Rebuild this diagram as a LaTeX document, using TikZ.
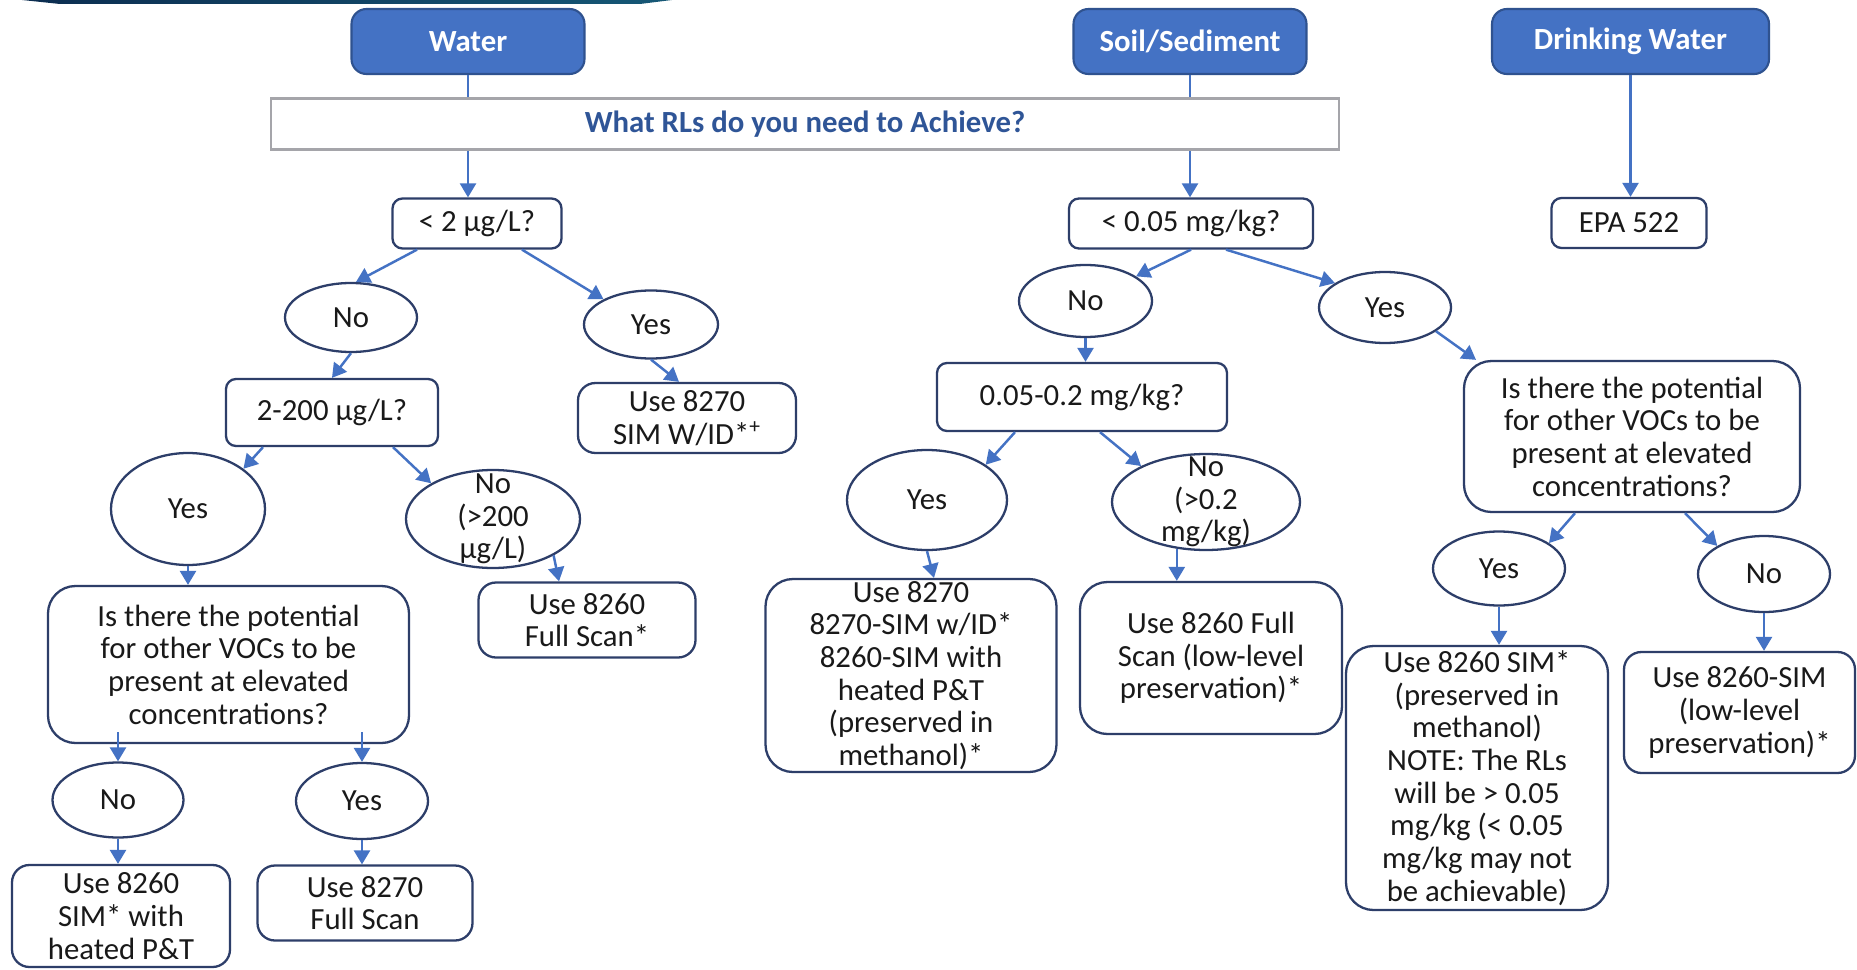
\documentclass[tikz,border=0pt]{standalone}
\usepackage{fontspec}
\setmainfont{Carlito}
\usetikzlibrary{positioning,arrows.meta,calc,shapes.geometric}
\definecolor{HdrBlue}{RGB}{68,114,196}
\definecolor{HdrEdge}{RGB}{47,82,143}
\definecolor{BoxEdge}{RGB}{45,62,105}
\definecolor{AskGray}{RGB}{165,165,170}
\definecolor{AskText}{RGB}{47,85,151}
\definecolor{BandDark}{RGB}{12,45,80}
\definecolor{BandTeal}{RGB}{22,88,118}
\definecolor{InkGray}{RGB}{25,25,25}
\newcommand{\flowfont}{\fontsize{17.5}{18.6}\selectfont}

\begin{document}
\begin{tikzpicture}[x=0.2mm, y=-0.2mm, font=\flowfont, every node/.style={align=center, text=InkGray}]
\tikzset{
  catbox/.style={draw=HdrEdge, fill=HdrBlue, rounded corners=3mm, line width=1.2pt, text=white, font=\flowfont\bfseries, minimum width=46.6mm, minimum height=13mm},
  askbox/.style={draw=AskGray, fill=white, line width=1.4pt, text=AskText, font=\flowfont\bfseries},
  qbox/.style={draw=BoxEdge, fill=white, rounded corners=2mm, line width=1.3pt, inner sep=0pt},
  usebox/.style={qbox, rounded corners=3.5mm},
  bigbox/.style={qbox, rounded corners=5.5mm},
  ans/.style={ellipse, draw=BoxEdge, fill=white, line width=1.3pt, inner sep=0pt},
  anstxt/.style={inner sep=0pt},
  arr/.style={-{Triangle[length=2.8mm,width=3.2mm]}, line width=1.4pt, HdrBlue},
  link/.style={line width=1.4pt, HdrBlue}
}
  \path[use as bounding box, fill=white] (0,0) rectangle (1857,970);
  \shade[left color=BandDark, right color=BandTeal] (22,0) -- (672,0) -- (640,4) -- (60,4) -- cycle;

  % headers
  \node[catbox] (water) at (468,41.5) {Water};
  \node[catbox] (soil) at (1190,41.5) {Soil/Sediment};
  \node[catbox, minimum width=55.4mm] (drink) at (1630.5,41.5) {Drinking Water};
  \node[askbox, minimum width=213.6mm, minimum height=10.2mm] (quest) at (805,124) {What RLs do you need to Achieve?};
  \node[qbox, minimum width=31mm, minimum height=10mm] (epa) at (1629,223) {EPA 522};

  % water branch
  \node[qbox, minimum width=33.8mm, minimum height=10mm] (lt2) at (477,223.5) {< 2 µg/L?};
  \node[ans, minimum width=26.4mm, minimum height=13.8mm] (no1) at (351,317.5) {No};
  \node[ans, minimum width=26.8mm, minimum height=13.6mm] (yes1) at (651,324.5) {Yes};
  \node[qbox, minimum width=42.4mm, minimum height=13.4mm] (r2200) at (332,412.5) {2-200 µg/L?};
  \node[usebox, minimum width=43.6mm, minimum height=14mm] (u8270sim) at (687,418) {Use 8270\\SIM W/ID*\textsuperscript{+}};
  \node[ans, minimum width=30.8mm, minimum height=22.4mm] (yes2) at (188,509) {Yes};
  \node[ans, minimum width=34.8mm, minimum height=19.6mm] (no2) at (493,519) {};
  \node[anstxt] (no2t) at (no2) {No\\(>200\\µg/L)};
  \node[usebox, minimum width=43.4mm, minimum height=15mm] (u8260fs) at (587,620) {Use 8260\\Full Scan*};
  \node[bigbox, minimum width=72.2mm, minimum height=31.4mm] (pot1) at (228.5,664.5) {Is there the potential\\for other VOCs to be\\present at elevated\\concentrations?};
  \node[ans, minimum width=26.2mm, minimum height=15mm] (no3) at (118,800) {No};
  \node[ans, minimum width=26.4mm, minimum height=15.2mm] (yes3) at (362,801) {Yes};
  \node[usebox, minimum width=43.6mm, minimum height=20.4mm] (u8260sim) at (121,916) {Use 8260\\SIM* with\\heated P\&T};
  \node[usebox, minimum width=43mm, minimum height=15mm] (u8270fs) at (365,903) {Use 8270\\Full Scan};

  % soil branch
  \node[qbox, minimum width=48.8mm, minimum height=10mm] (lt005) at (1191,223.5) {< 0.05 mg/kg?};
  \node[ans, minimum width=26.6mm, minimum height=14.4mm] (no4) at (1085.5,301) {No};
  \node[ans, minimum width=26.4mm, minimum height=14.2mm] (yes4) at (1385,307.5) {Yes};
  \node[qbox, minimum width=58mm, minimum height=13.6mm] (r005) at (1082,397) {0.05-0.2 mg/kg?};
  \node[ans, minimum width=32mm, minimum height=20mm] (yes5) at (927,500) {Yes};
  \node[ans, minimum width=37.6mm, minimum height=19.2mm] (no5) at (1206,502) {};
  \node[anstxt] (no5t) at (no5) {No\\(>0.2\\mg/kg)};
  \node[bigbox, minimum width=58.2mm, minimum height=38.6mm] (u8270m) at (911,675.5) {Use 8270\\8270-SIM w/ID*\\8260-SIM with\\heated P\&T\\(preserved in\\methanol)*};
  \node[bigbox, minimum width=52.4mm, minimum height=30.4mm] (u8260ll) at (1211,658) {Use 8260 Full\\Scan (low-level\\preservation)*};
  \node[bigbox, minimum width=67.2mm, minimum height=30.2mm] (pot2) at (1632,436.5) {Is there the potential\\for other VOCs to be\\present at elevated\\concentrations?};
  \node[ans, minimum width=26.4mm, minimum height=14.8mm] (yes6) at (1499,568.5) {Yes};
  \node[ans, minimum width=26.4mm, minimum height=15.2mm] (no6) at (1764,574) {No};
  \node[bigbox, minimum width=52.4mm, minimum height=52.8mm] (note) at (1477,778) {Use 8260 SIM*\\(preserved in\\methanol)\\NOTE: The RLs\\will be > 0.05\\mg/kg (< 0.05\\mg/kg may not\\be achievable)};
  \node[usebox, minimum width=46.2mm, minimum height=24.2mm] (u8260sl) at (1739.5,712.5) {Use 8260-SIM\\(low-level\\preservation)*};

  % water connectors
  \draw[link] (water) -- (water |- quest.north);
  \draw[arr] (water |- quest.south) -- (water |- lt2.north);
  \draw[arr] ($(lt2.south)+(-60,0)$) -- (no1.82);
  \draw[arr] ($(lt2.south)+(45,0)$) -- (yes1.152);
  \draw[arr] (no1.south) -- (r2200.north);
  \draw[arr] (yes1.south) -- ($(u8270sim.north)+(-8,0)$);
  \draw[arr] ($(r2200.south)+(-69,0)$) -- (yes2.36);
  \draw[arr] ($(r2200.south)+(61,0)$) -- (no2.150);
  \draw[arr] (yes2) -- (yes2 |- pot1.north);
  \draw[arr] (no2.-31) -- ($(u8260fs.north)+(-28,0)$);
  \draw[arr] ($(no3 |- pot1.south)+(0,-12)$) -- (no3);
  \draw[arr] ($(yes3 |- pot1.south)+(0,-12)$) -- (yes3);
  \draw[arr] (no3) -- (no3 |- u8260sim.north);
  \draw[arr] (yes3) -- (yes3 |- u8270fs.north);

  % soil connectors
  \draw[link] (soil) -- (soil |- quest.north);
  \draw[arr] (soil |- quest.south) -- (soil |- lt005.north);
  \draw[arr] (lt005.south) -- (no4.26);
  \draw[arr] ($(lt005.south)+(35,0)$) -- (yes4.154);
  \draw[arr] (no4) -- (no4 |- r005.north);
  \draw[arr] ($(r005.south)+(-67,0)$) -- (yes5.31);
  \draw[arr] ($(r005.south)+(18,0)$) -- (no5.151);
  \draw[arr] (yes5.south) -- ($(u8270m.north)+(23,0)$);
  \draw[arr] (no5.-122) -- (no5.-122 |- u8260ll.north);
  \draw[arr] (yes4.-25) -- ($(pot2.north)+(-156,0)$);
  \draw[arr] ($(pot2.south)+(-57,0)$) -- (yes6.27);
  \draw[arr] ($(pot2.south)+(53,0)$) -- (no6.149);
  \draw[arr] (yes6) -- (yes6 |- note.north);
  \draw[arr] (no6) -- (no6 |- u8260sl.north);

  % drinking water
  \draw[arr] (drink) -- (drink |- epa.north);
\end{tikzpicture}
\end{document}
